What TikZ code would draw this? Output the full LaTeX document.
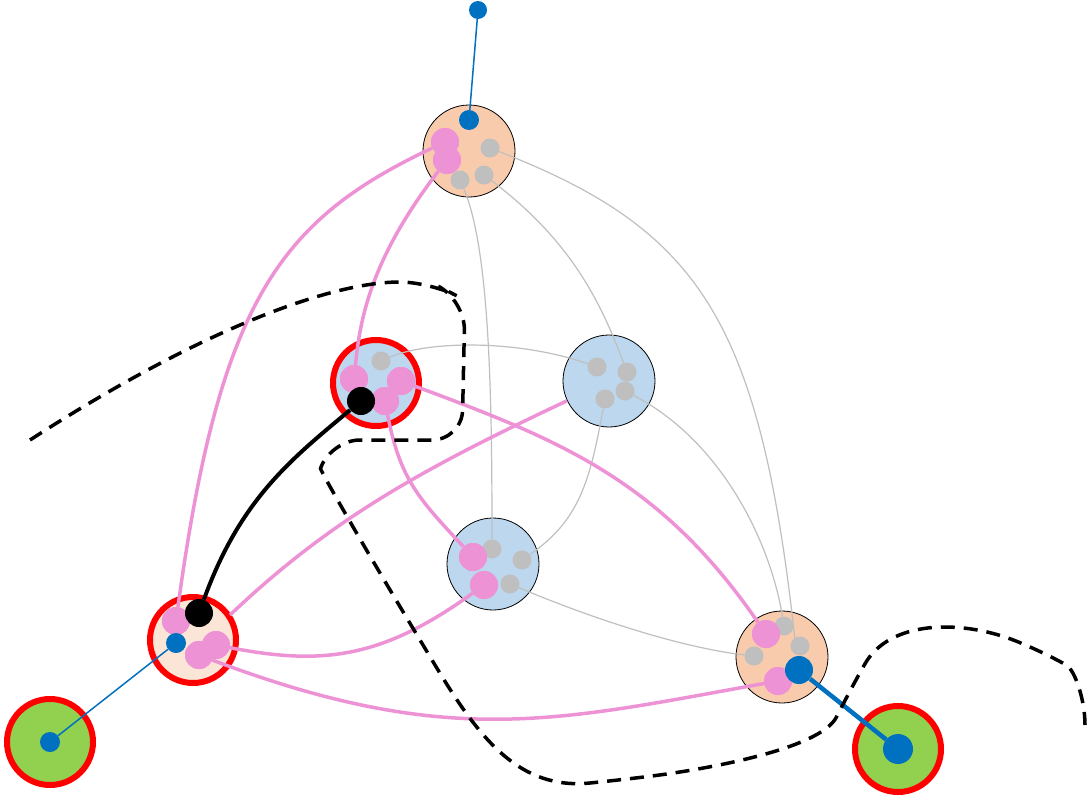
\documentclass[tikz,border=0pt]{standalone}
\begin{document}
\begin{tikzpicture}[x=1pt,y=-1pt,
  big/.style={circle,draw=black,line width=0.8pt,minimum size=92pt,inner sep=0},
  ring/.style={circle,draw=red,line width=6pt,minimum size=86pt,inner sep=0},
  gdot/.style={circle,fill=gray!50,minimum size=19pt,inner sep=0},
  pdot/.style={circle,fill=pinkc,minimum size=28pt,inner sep=0},
  bdot/.style={circle,fill=bluec,minimum size=20pt,inner sep=0},
  kdot/.style={circle,fill=black,minimum size=28pt,inner sep=0},
  gedge/.style={draw=gray!50,line width=1.2pt},
  pedge/.style={draw=pinkc,line width=3.5pt},
]
\definecolor{pinkc}{HTML}{EE92D6}
\definecolor{bluec}{HTML}{0070C0}
\definecolor{peach}{HTML}{F8CBAD}
\definecolor{lblue}{HTML}{BDD7EE}
\definecolor{lpeach}{HTML}{FBE5D6}
\definecolor{grn}{HTML}{92D050}
\useasboundingbox (0,0) rectangle (1087,800);
% big nodes
\node[big,fill=peach] (A) at (469,151) {};
\node[ring,fill=lblue] (B) at (376,383) {};
\node[big,fill=lblue] (C) at (609,381) {};
\node[big,fill=lblue] (D) at (493,564) {};
\node[ring,fill=lpeach] (E) at (193,640) {};
\node[big,fill=peach] (F) at (782,657) {};
\node[ring,fill=grn] (G1) at (50,742) {};
\node[ring,fill=grn] (G2) at (898,749) {};
% inner dots
\node[bdot,minimum size=18pt] (top) at (478,10) {};
\node[bdot] (a0) at (469,120) {};
\node[gdot] (a1) at (490,148) {};
\node[gdot] (a2) at (484,175) {};
\node[gdot] (a3) at (460,180) {};
\node[gdot] (b0) at (381,361) {};
\node[gdot] (c1) at (597,367) {};
\node[gdot] (c2) at (627,372) {};
\node[gdot] (c3) at (625,391) {};
\node[gdot] (c4) at (605,399) {};
\node[gdot] (d1) at (492,549) {};
\node[gdot] (d2) at (522,560) {};
\node[gdot] (d3) at (510,584) {};
\node[gdot] (f1) at (784,626) {};
\node[gdot] (f2) at (800,646) {};
\node[gdot] (f3) at (754,656) {};
% gray edges
\draw[gedge] (a3) .. controls (490,250) and (492,400) .. (d1);
\draw[gedge] (a2) .. controls (570,240) and (600,300) .. (c2);
\draw[gedge] (a1) .. controls (700,230) and (760,320) .. (795,640);
\draw[gedge] (c4) .. controls (590,480) and (580,520) .. (d2);
\draw[gedge] (c3) .. controls (720,440) and (770,540) .. (f1);
\draw[gedge] (d3) .. controls (620,630) and (700,650) .. (f3);
\draw[gedge] (b0) .. controls (430,340) and (520,340) .. (c1);
% pink dots
\node[pdot] (a4) at (445,142) {};
\node[pdot] (a5) at (447,160) {};
\node[pdot] (b1) at (354,379) {};
\node[pdot] (b2) at (401,381) {};
\node[pdot] (b3) at (385,401) {};
\node[pdot] (d4) at (473,557) {};
\node[pdot] (d5) at (484,585) {};
\node[pdot] (e1) at (176,621) {};
\node[pdot] (e2) at (199,655) {};
\node[pdot] (e3) at (216,645) {};
\node[pdot] (f4) at (766,634) {};
\node[pdot] (f5) at (778,681) {};
% pink edges
\draw[pedge] (a4) .. controls (280,220) and (220,300) .. (e1);
\draw[pedge] (a5) .. controls (370,260) and (360,320) .. (b1);
\draw[pedge] (b2) .. controls (560,440) and (660,480) .. (f4);
\draw[pedge] (b3) .. controls (400,480) and (420,500) .. (d4);
\draw[pedge] (230,615) .. controls (330,520) and (420,470) .. (C);
\draw[pedge] (e3) .. controls (320,665) and (380,660) .. (d5);
\draw[pedge] (e2) .. controls (450,750) and (560,720) .. (f5);
% re-draw dots on top
\foreach \p in {a4,a5,b1,b2,b3,d4,d5,e1,e2,e3,f4,f5}{\fill[pinkc] (\p) circle (14pt);}
\node[kdot] (b4) at (361,401) {};
\node[kdot] (e4) at (199,613) {};
\node[bdot] (e5) at (176,643) {};
\node[bdot,minimum size=28pt] (f6) at (799,670) {};
\node[bdot] (g1) at (50,742) {};
\node[bdot,minimum size=30pt] (g2) at (898,749) {};
% black + blue edges
\draw[line width=4pt] (e4) .. controls (240,500) and (290,460) .. (b4);
\draw[bluec,line width=1.5pt] (top) -- (a0);
\draw[bluec,line width=1.5pt] (e5) -- (g1);
\draw[bluec,line width=4.5pt] (f6) -- (g2);
% dashed
\draw[line width=3.5pt,dash pattern=on 14pt off 9pt,rounded corners=30pt]
  (30,440) .. controls (200,330) and (330,282) .. (430,282)
  -- (465,300) -- (462,440) -- (330,440)
  .. controls (320,470) and (360,540) .. (420,640)
  .. controls (480,740) and (520,790) .. (620,780)
  .. controls (700,770) and (820,750) .. (850,690)
  .. controls (890,620) and (960,620) .. (1040,650)
  .. controls (1075,670) and (1085,700) .. (1085,725);
\end{tikzpicture}
\end{document}
